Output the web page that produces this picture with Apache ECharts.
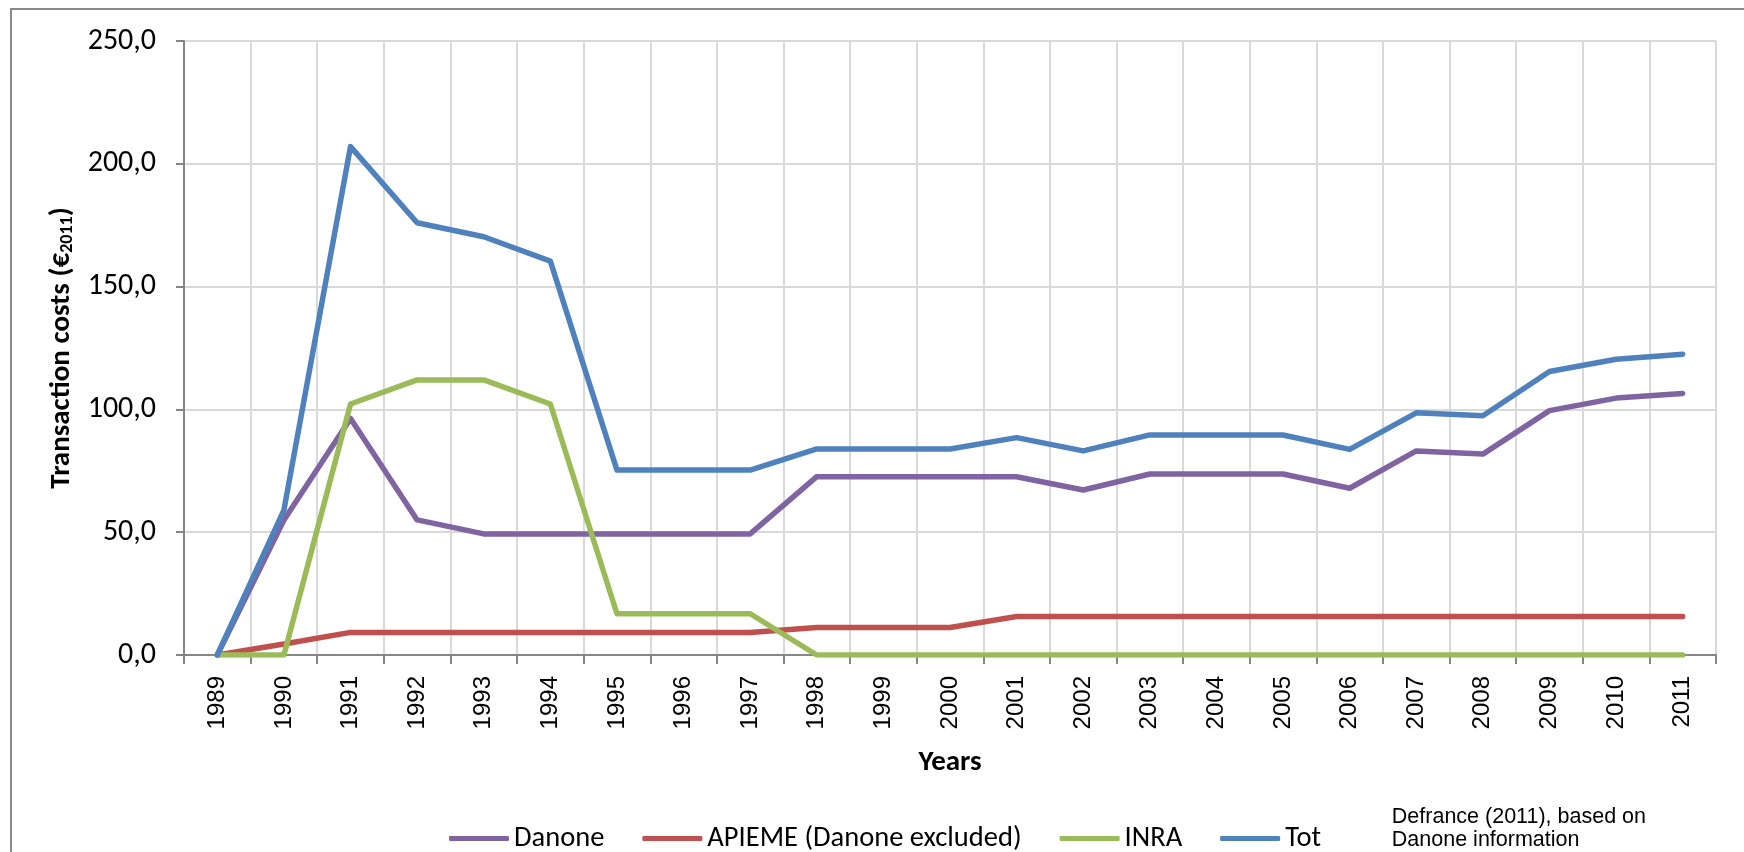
<!DOCTYPE html>
<html>
<head>
<meta charset="utf-8">
<script src="https://cdn.jsdelivr.net/npm/echarts@6/dist/echarts.min.js"></script>
<style>
  html, body { margin: 0; padding: 0; background: #fff; }
  #chart { width: 1744px; height: 852px; }
</style>
</head>
<body>
<div id="chart"></div>
<script>
// years on the x axis
var years = ["1989", "1990", "1991", "1992", "1993", "1994", "1995", "1996", "1997", "1998", "1999",
  "2000", "2001", "2002", "2003", "2004", "2005", "2006", "2007", "2008", "2009", "2010", "2011"];

// values (€2011)
var danone = [0, 55, 96.3, 55, 49.3, 49.3, 49.3, 49.3, 49.3, 72.6, 72.6, 72.6, 72.6, 67.2, 73.7, 73.7, 73.7, 67.9, 83.1, 81.8, 99.5, 104.6, 106.5];
var apieme = [0, 4.5, 9.2, 9.2, 9.2, 9.2, 9.2, 9.2, 9.2, 11.2, 11.2, 11.2, 15.7, 15.7, 15.7, 15.7, 15.7, 15.7, 15.7, 15.7, 15.7, 15.7, 15.7];
var inra = [0, 0, 102.2, 112, 112, 102.2, 16.8, 16.8, 16.8, 0, 0, 0, 0, 0, 0, 0, 0, 0, 0, 0, 0, 0, 0];
var tot = [0, 59, 207, 176, 170.3, 160.4, 75.3, 75.3, 75.3, 83.9, 83.9, 83.9, 88.5, 83.1, 89.6, 89.6, 89.6, 83.7, 98.6, 97.4, 115.4, 120.4, 122.5];

var yTicks = [0, 50, 100, 150, 200, 250];

var calibri = "Carlito, Lato, 'Liberation Sans', sans-serif";
var arial = "'Liberation Sans', Arial, sans-serif";

var myChart = echarts.init(document.getElementById("chart"));

function line(name, data, color) {
  return {
    name: name,
    type: "line",
    data: data,
    showSymbol: false,
    symbol: "none",
    animation: false,
    lineStyle: { color: color, width: 5.5, cap: "round", join: "round" },
    itemStyle: { color: color }
  };
}

var option = {
  backgroundColor: "#fff",
  animation: false,
  grid: {
    left: 184,
    right: 28,
    top: 41,
    bottom: 197,
    outerBoundsMode: "none"
  },
  legend: {
    left: 444,
    top: 819,
    itemWidth: 60,
    itemHeight: 5,
    itemGap: 38,
    icon: "roundRect",
    textStyle: { fontFamily: calibri, fontSize: 28.5, color: "#000" },
    data: ["Danone", "APIEME (Danone excluded)", "INRA", "Tot"]
  },
  xAxis: {
    type: "category",
    data: years,
    boundaryGap: true,
    name: "Years",
    nameLocation: "middle",
    nameGap: 93,
    nameTextStyle: { fontFamily: calibri, fontSize: 29, fontWeight: "bold", color: "#000" },
    axisLine: { lineStyle: { color: "#868686", width: 2 } },
    axisTick: { show: true, length: 9, alignWithLabel: false, lineStyle: { color: "#868686", width: 2 } },
    axisLabel: {
      rotate: 90,
      margin: 21,
      fontFamily: arial,
      fontSize: 24,
      color: "#000"
    },
    splitLine: { show: true, lineStyle: { color: "#D9D9D9", width: 2 } }
  },
  yAxis: {
    type: "value",
    min: 0,
    max: 250,
    interval: 50,
    name: "Transaction costs (€{sub|2011})",
    nameLocation: "middle",
    nameRotate: 90,
    nameGap: 102,
    nameTextStyle: {
      fontFamily: calibri,
      fontSize: 29,
      fontWeight: "bold",
      color: "#000",
      rich: {
        sub: { fontFamily: calibri, fontSize: 18, fontWeight: "bold", color: "#000", verticalAlign: "bottom", padding: [12, 0, 0, 0] }
      }
    },
    axisLine: { show: true, lineStyle: { color: "#868686", width: 2 } },
    axisTick: { show: true, length: 8, lineStyle: { color: "#868686", width: 2 } },
    axisLabel: {
      margin: 28,
      fontFamily: calibri,
      fontSize: 30,
      color: "#000",
      formatter: function (v) {
        return yTicks.indexOf(v) >= 0 ? v.toFixed(1).replace(".", ",") : "";
      }
    },
    splitLine: { show: true, lineStyle: { color: "#D9D9D9", width: 2 } }
  },
  graphic: [
    {
      type: "rect",
      shape: { x: 11, y: 9, width: 1800, height: 900 },
      style: { fill: "none", stroke: "#8a8a8a", lineWidth: 2 },
      silent: true,
      z: -1
    },
    {
      type: "text",
      right: 98,
      top: 806,
      style: {
        text: "Defrance (2011), based on\nDanone information",
        fontFamily: arial,
        fontSize: 21.5,
        lineHeight: 23,
        align: "right",
        fill: "#000"
      }
    }
  ],
  series: [
    line("Danone", danone, "#8064A2"),
    line("APIEME (Danone excluded)", apieme, "#C0504D"),
    line("INRA", inra, "#9BBB59"),
    line("Tot", tot, "#4F81BD")
  ]
};

option && myChart.setOption(option);
</script>
</body>
</html>
